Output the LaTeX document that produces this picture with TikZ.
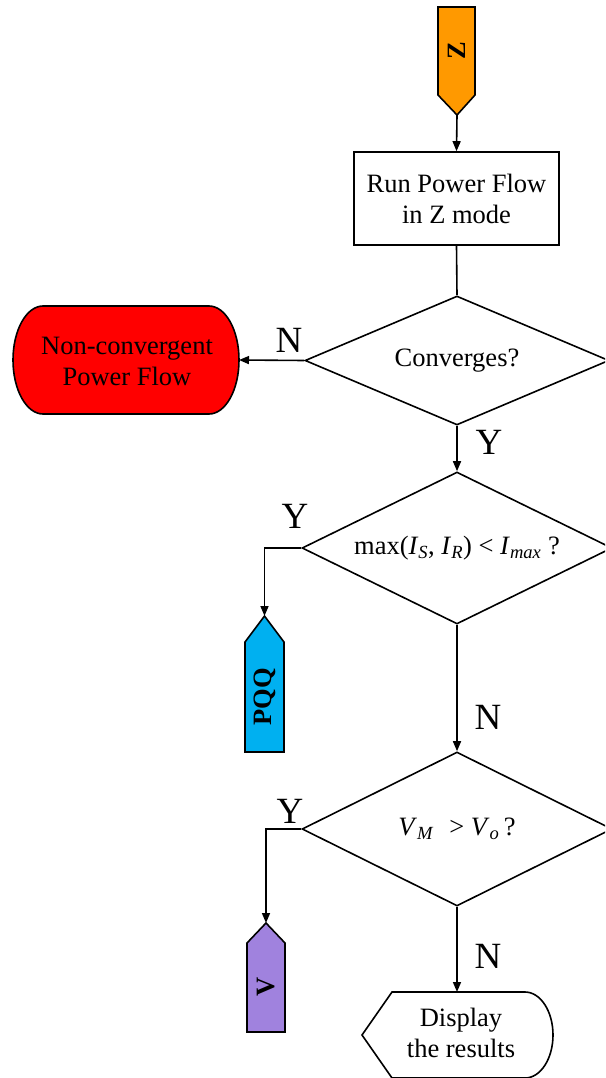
\documentclass[tikz,border=0pt]{standalone}
\usepackage{fontspec}
\setmainfont{Liberation Serif}
\usetikzlibrary{arrows.meta,shapes.geometric}
\definecolor{zorange}{RGB}{255,153,0}
\definecolor{ncred}{RGB}{255,0,0}
\definecolor{pqqblue}{RGB}{0,176,240}
\definecolor{vpurple}{RGB}{160,130,222}
\tikzset{
  every node/.style={font=\fontsize{26.5}{31}\selectfont},
  shp/.style={draw=black,line width=1.6pt,line join=miter},
  ln/.style={draw=black,line width=1.6pt},
  arr/.style={ln,-{Triangle[length=10pt,width=8pt]}},
  lbl/.style={font=\fontsize{37}{40}\selectfont,inner sep=0pt},
  dec/.style={shp,shape=diamond,inner sep=0pt,align=center,shape aspect=2.2},
  offtxt/.style={font=\fontsize{26.5}{31}\selectfont\bfseries,rotate=90,inner sep=0pt}
}
\begin{document}
\begin{tikzpicture}[x=1pt,y=-1pt]
\useasboundingbox (0,0) rectangle (605,1078);
\clip (0,0) rectangle (605,1078);
% Z off-page connector
\draw[shp,fill=zorange] (438,7) -- (475,7) -- (475,95) -- (457,115) -- (438,95) -- cycle;
\coordinate (ztip) at (457,115);
\node[offtxt] (zt) at (457,51) {Z};
% process box
\node[shp,minimum width=205pt,minimum height=93pt,align=center] (run) at (456.5,198.5) {Run Power Flow\\in Z mode};
% decision 1
\node[dec,minimum width=304pt,minimum height=129pt] (d1) at (457,360.5) {Converges?};
% non-convergent terminal
\draw[shp,fill=ncred] (43,306) -- (209,306) arc[start angle=90,end angle=-90,x radius=30pt,y radius=54pt] -- (43,414) arc[start angle=270,end angle=90,x radius=30pt,y radius=54pt] -- cycle;
\coordinate (nce) at (239,360);
\node[align=center] (nc) at (127,361) {Non-convergent\\Power Flow};
% decision 2
\node[dec,minimum width=310pt,minimum height=152pt] (d2) at (457,548) {max(\textit{I}\textsubscript{\textit{S}}, \textit{I}\textsubscript{\textit{R}}) {<} \textit{I}\textsubscript{\textit{max}} ?};
% PQQ connector
\draw[shp,fill=pqqblue] (245,642) -- (264.5,616) -- (284,642) -- (284,752) -- (245,752) -- cycle;
\coordinate (pqqtip) at (264.5,616);
\node[offtxt] (pqq) at (265,697) {PQQ};
% decision 3
\node[dec,minimum width=310pt,minimum height=154pt] (d3) at (457,829) {\textit{V}\textsubscript{\textit{M}}\,\, {>} \textit{V}\textsubscript{\textit{o}}\,?};
% V connector
\draw[shp,fill=vpurple] (247,943) -- (266,923) -- (285,943) -- (285,1032) -- (247,1032) -- cycle;
\coordinate (vtip) at (266,923);
\node[offtxt] (vt) at (266,987) {V};
% display
\draw[shp] (362,1035) -- (392,992) -- (525,992) arc[start angle=90,end angle=-90,x radius=28pt,y radius=43pt] -- (392,1078) -- cycle;
\coordinate (disptop) at (457,992);
\node[align=center] (disp) at (461,1033) {Display\\the results};
% connectors
\draw[arr] (ztip) -- (run.north);
\draw[ln] (run.south) -- (d1.north);
\draw[arr] (d1.west) -- (nce);
\draw[arr] (d1.south) -- (d2.north);
\draw[arr] (d2.west) -| (pqqtip);
\draw[arr] (d2.south) -- (d3.north);
\draw[arr] (d3.west) -| (vtip);
\draw[arr] (d3.south) -- (disptop);
% labels
\node[lbl] (n1) at (289,340) {N};
\node[lbl] (y1) at (489,442) {Y};
\node[lbl] (y2) at (295,516) {Y};
\node[lbl] (n2) at (488,717) {N};
\node[lbl] (y3) at (290,811) {Y};
\node[lbl] (n3) at (488,956) {N};
\end{tikzpicture}
\end{document}
